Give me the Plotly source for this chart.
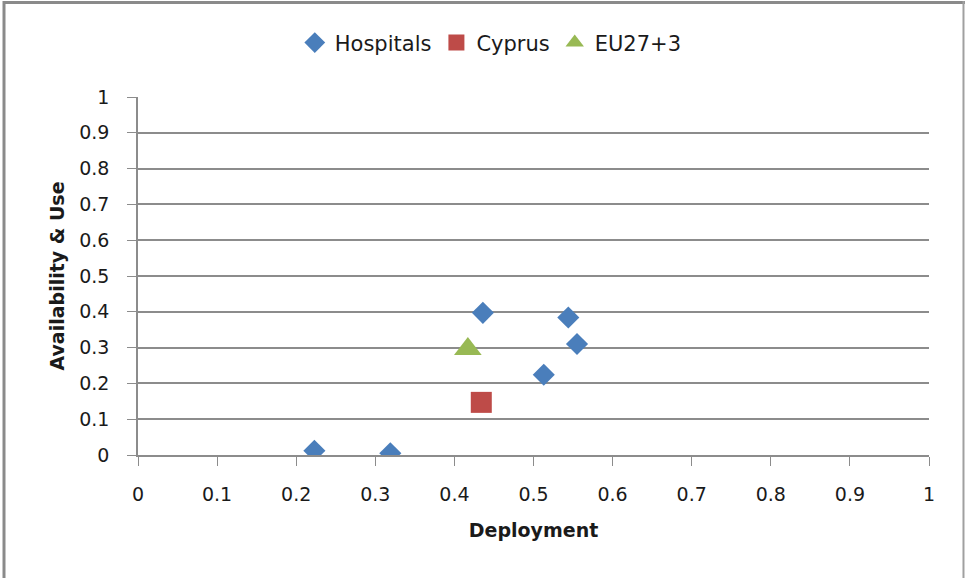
import plotly.graph_objects as go

# Hospitals / Cyprus / EU average: Deployment (x) vs Availability & Use (y)
hosp_x = [0.223, 0.319, 0.436, 0.513, 0.544, 0.555]
hosp_y = [0.012, 0.005, 0.397, 0.224, 0.384, 0.310]
cyprus_x = [0.434]
cyprus_y = [0.147]
eu_x = [0.417]
eu_y = [0.296]

tick_vals = [0, 0.1, 0.2, 0.3, 0.4, 0.5, 0.6, 0.7, 0.8, 0.9, 1]
tick_text = ["0", "0.1", "0.2", "0.3", "0.4", "0.5", "0.6", "0.7", "0.8", "0.9", "1"]

FONT = "'DejaVu Sans', sans-serif"
GRID = "#8c8c8c"

fig = go.Figure()
fig.add_trace(go.Scatter(
    x=hosp_x, y=hosp_y, mode="markers", name="Hospitals",
    marker=dict(symbol="diamond", size=17, color="#4a7ebb"),
))
fig.add_trace(go.Scatter(
    x=cyprus_x, y=cyprus_y, mode="markers", name="Cyprus",
    marker=dict(symbol="square", size=21, color="#be4b48"),
))
fig.add_trace(go.Scatter(
    x=eu_x, y=eu_y, mode="markers", name="EU27+3",
    marker=dict(symbol="triangle-up", size=24, color="#98b954"),
))

# outer chart frame (left, top, right edges visible in the original)
frame = dict(type="line", xref="paper", yref="paper",
             line=dict(color="#8a8a8a", width=3))
fig.add_shape(frame, x0=-0.1694, x1=-0.1694, y0=-0.40, y1=1.268)
fig.add_shape(frame, x0=-0.1706, x1=1.05, y0=1.264, y1=1.264)
fig.add_shape(dict(frame, line=dict(color="#a0a0a0", width=2)),
              x0=1.0436, x1=1.0436, y0=-0.40, y1=1.268)

fig.update_layout(
    width=965, height=578,
    margin=dict(l=138, r=36, t=97, b=123, autoexpand=False),
    plot_bgcolor="white", paper_bgcolor="white",
    font=dict(family=FONT, size=19, color="#1a1a1a"),
    showlegend=True,
    legend=dict(
        orientation="h", x=0.446, xanchor="center", y=1.151, yanchor="middle",
        font=dict(size=21), bgcolor="rgba(0,0,0,0)", itemwidth=30,
    ),
    xaxis=dict(
        range=[0, 1], tickvals=tick_vals, ticktext=tick_text,
        showgrid=False, zeroline=False,
        showline=True, linecolor=GRID, linewidth=1.5,
        ticks="outside", ticklen=9, tickcolor=GRID, ticklabelstandoff=12,
        title=dict(text="<b>Deployment</b>", font=dict(size=19), standoff=20),
    ),
    yaxis=dict(
        range=[0, 1], tickvals=tick_vals, ticktext=tick_text,
        showgrid=True, gridcolor=GRID, gridwidth=1.5, zeroline=False,
        showline=True, linecolor=GRID, linewidth=1.5,
        ticks="outside", ticklen=9, tickcolor=GRID, ticklabelstandoff=14,
        title=dict(text="<b>Availability & Use</b>", font=dict(size=19), standoff=10),
    ),
)

fig.write_html("out.html", config={"displayModeBar": False},
               post_script="document.body.style.margin='0';")
